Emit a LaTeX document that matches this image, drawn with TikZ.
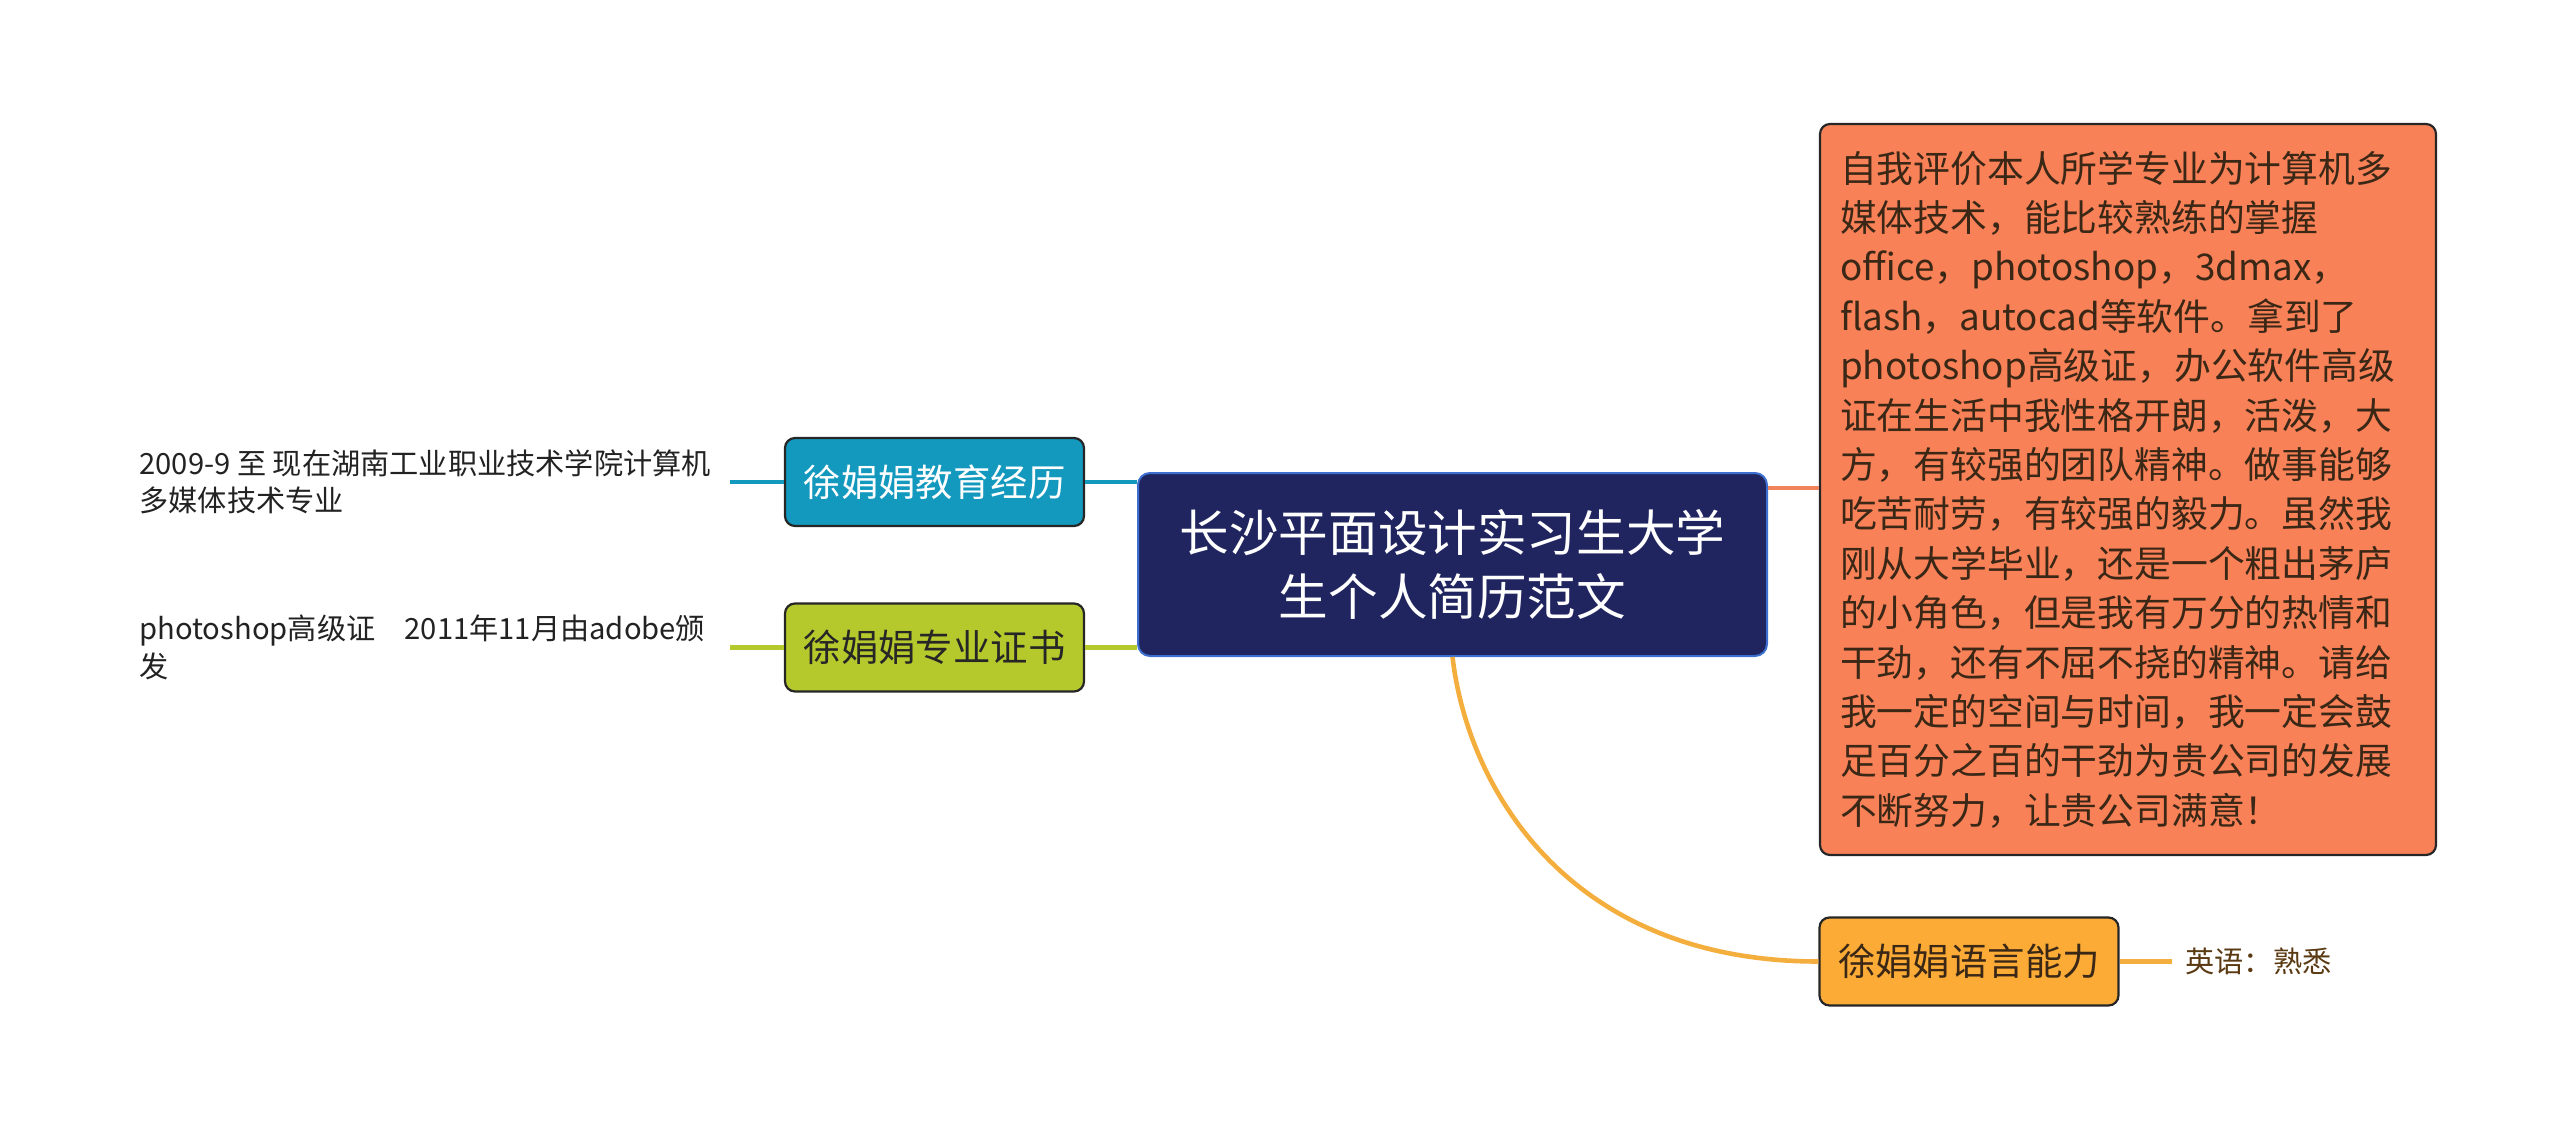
\documentclass[tikz,border=0pt]{standalone}
\usepackage{fontspec}
\newfontfamily\cjk{Noto Sans CJK SC}
\definecolor{rootfill}{HTML}{20255F}
\definecolor{rootdraw}{HTML}{3D6FD0}
\definecolor{edufill}{HTML}{1398BE}
\definecolor{certfill}{HTML}{B6C92C}
\definecolor{selffill}{HTML}{F98158}
\definecolor{selfline}{HTML}{F0845C}
\definecolor{langfill}{HTML}{FBAB36}
\definecolor{langline}{HTML}{F4AE3E}
\definecolor{darktext}{HTML}{3A2716}
\definecolor{leaftext}{HTML}{222222}
\definecolor{langleaf}{HTML}{5A3A12}
\begin{document}
\begin{tikzpicture}[x=0.5pt,y=-0.5pt,
  branch/.style={draw=black!85, line width=1.1pt, rounded corners=5pt, align=center,
    inner sep=0pt, minimum width=149.5pt, minimum height=44pt,
    font=\cjk\fontsize{18.7}{24}\selectfont},
  rootbox/.style={draw=rootdraw, line width=1pt, fill=rootfill, rounded corners=6pt,
    align=center, inner sep=0pt, minimum width=314.5pt, minimum height=91.5pt,
    text=white, font=\cjk\fontsize{24.8}{32}\selectfont},
  selfbox/.style={draw=black!85, line width=1.1pt, fill=selffill, rounded corners=5pt,
    align=left, inner sep=0pt, minimum width=308pt, minimum height=365.5pt,
    text width=288pt, text=darktext, font=\cjk\fontsize{18.4}{24.7}\selectfont},
  leaf/.style={anchor=west, align=left, inner sep=0pt, text=leaftext,
    font=\cjk\fontsize{14.6}{18.7}\selectfont},
  conn/.style={line width=2.3pt}
]
\useasboundingbox (0,0) rectangle (2560,1129);

% nodes
\node[rootbox] (root) at (1452.5,564.5) {长沙平面设计实习生大学\\生个人简历范文};
\node[branch, fill=edufill, text=white] (edu) at (934.5,482) {徐娟娟教育经历};
\node[branch, fill=certfill, text=black!85] (cert) at (934.5,647.5) {徐娟娟专业证书};
\node[selfbox] (self) at (2128,489.5) {自我评价本人所学专业为计算机多\\
媒体技术，能比较熟练的掌握\\
office，photoshop，3dmax，\\
flash，autocad等软件。拿到了\\
photoshop高级证，办公软件高级\\
证在生活中我性格开朗，活泼，大\\
方，有较强的团队精神。做事能够\\
吃苦耐劳，有较强的毅力。虽然我\\
刚从大学毕业，还是一个粗出茅庐\\
的小角色，但是我有万分的热情和\\
干劲，还有不屈不挠的精神。请给\\
我一定的空间与时间，我一定会鼓\\
足百分之百的干劲为贵公司的发展\\
不断努力，让贵公司满意！};
\node[branch, fill=langfill, text=darktext] (lang) at (1969,961.5) {徐娟娟语言能力};

\node[leaf] (eduleaf) at (139,482) {2009-9 至 现在湖南工业职业技术学院计算机\\多媒体技术专业};
\node[leaf] (certleaf) at (139,647.5) {photoshop高级证　2011年11月由adobe颁\\发};
\node[leaf, text=langleaf] (langleaf) at (2185,961.5) {英语：熟悉};

\coordinate (eduend) at (730,482);
\coordinate (certend) at (730,647.5);
\coordinate (langend) at (2172,961.5);

% connectors
\draw[conn, edufill] (root.west |- edu.east) -- (edu.east);
\draw[conn, edufill] (edu.west) -- (eduend);
\draw[conn, certfill] (root.west |- cert.east) -- (cert.east);
\draw[conn, certfill] (cert.west) -- (certend);
\draw[conn, selfline] (root.east |- 0,488) -- (self.west |- 0,488);
\draw[conn, langline] (root.south) .. controls (1468,790) and (1570,961.5) .. (lang.west);
\draw[conn, langline] (lang.east) -- (langend);
\end{tikzpicture}
\end{document}
